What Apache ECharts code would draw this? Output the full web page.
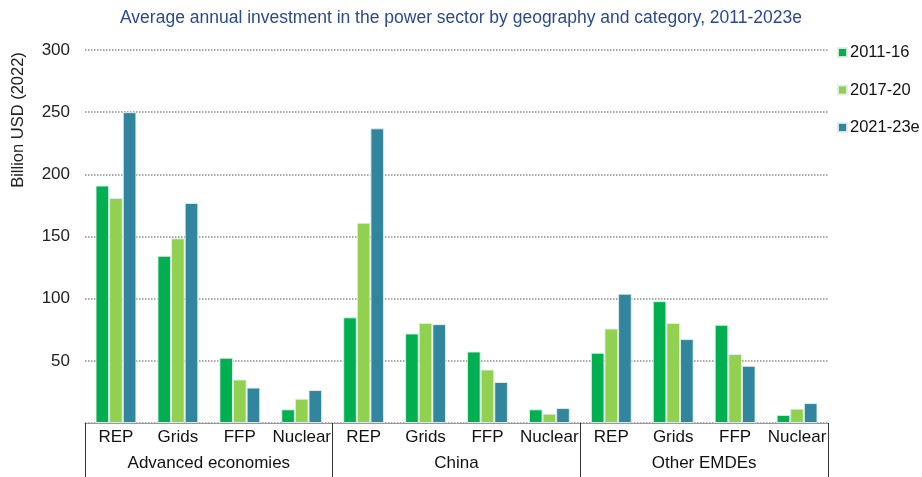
<!DOCTYPE html>
<html>
<head>
<meta charset="utf-8">
<script src="https://cdn.jsdelivr.net/npm/echarts@6/dist/echarts.min.js"></script>
<style>
  html, body { margin: 0; padding: 0; background: #fff; }
  #chart { width: 922px; height: 477px; }
</style>
</head>
<body>
<div id="chart"></div>
<script>
// categories
var categories = ["REP", "Grids", "FFP", "Nuclear", "REP", "Grids", "FFP", "Nuclear", "REP", "Grids", "FFP", "Nuclear"];
var groups = ["Advanced economies", "China", "Other EMDEs"];
var seriesNames = ["2011-16", "2017-20", "2021-23e"];

// values, billion USD (2022)
var p2011_16 = [191, 134.5, 52.5, 11, 85, 72, 57.5, 11, 56.5, 98, 79, 6.5];
var p2017_20 = [181, 148.5, 35, 19.5, 161, 80.5, 43, 7.5, 76, 80.5, 55.5, 11.5];
var p2021_23 = [250, 177, 28.5, 26.5, 237, 79.5, 33, 12, 104, 67.5, 46, 16];

var colors = ["#00B050", "#92D050", "#31859C"];
var font = "Liberation Sans, Arial, sans-serif";

var chart = echarts.init(document.getElementById("chart"));

function bar(name, data) {
  return {
    name: name,
    type: "bar",
    data: data,
    barGap: "0%",
    barCategoryGap: "34%",
    itemStyle: {
      borderColor: "rgba(225,238,238,0.9)",
      borderWidth: 1
    }
  };
}

chart.setOption({
  animation: false,
  color: colors,
  textStyle: { fontFamily: font },
  title: {
    text: "Average annual investment in the power sector by geography and category, 2011-2023e",
    left: "center",
    top: 4,
    textStyle: { color: "#2B4A8B", fontSize: 17.5, fontWeight: "normal", fontFamily: font }
  },
  graphic: [{
    type: "text",
    x: 18,
    y: 120,
    rotation: Math.PI / 2,
    style: {
      text: "Billion USD (2022)",
      fill: "#222",
      font: "16.5px " + font,
      textAlign: "center",
      textVerticalAlign: "middle"
    }
  }],
  legend: {
    orient: "vertical",
    left: 832,
    top: 39,
    itemWidth: 9,
    itemHeight: 9,
    itemGap: 20.5,
    icon: "rect",
    data: seriesNames,
    textStyle: { color: "#111", fontSize: 16.5, fontFamily: font, padding: [0, 0, 0, -2] }
  },
  grid: { left: 85, right: 94, top: 50, bottom: 54 },
  xAxis: [{
    type: "category",
    data: categories,
    axisLine: { lineStyle: { color: "#999", width: 1 } },
    axisTick: { show: false },
    axisLabel: { color: "#111", fontSize: 17, margin: 6, interval: 0 }
  }, {
    type: "category",
    data: groups,
    position: "bottom",
    axisLine: { show: false },
    axisTick: { show: true, length: 54, lineStyle: { color: "#333", width: 1 } },
    axisLabel: { color: "#111", fontSize: 17, margin: 32 }
  }],
  yAxis: {
    type: "value",
    min: 0,
    max: 300,
    interval: 50,
    axisLine: { show: false },
    axisTick: { show: false },
    axisLabel: {
      color: "#222",
      fontSize: 17,
      margin: 15,
      formatter: function (v) { return v === 0 ? "" : v; }
    },
    splitLine: { lineStyle: { color: "#8c8c8c", type: "dotted", width: 1.5 } }
  },
  series: [
    bar(seriesNames[0], p2011_16),
    bar(seriesNames[1], p2017_20),
    bar(seriesNames[2], p2021_23)
  ]
});
</script>
</body>
</html>
